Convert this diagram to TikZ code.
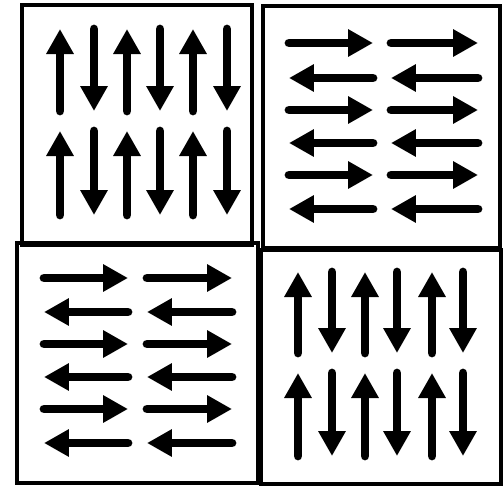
\documentclass[tikz,border=0pt]{standalone}
\usetikzlibrary{arrows.meta}

\begin{document}
\begin{tikzpicture}[
  x=0.02cm, y=-0.02cm,
  cadre/.style={draw, line width=2.1pt},
  spin/.style={line width=5pt, line cap=round,
               -{Triangle[width=0.52cm, length=0.5cm]}},
]
\useasboundingbox (0,0) rectangle (504,488);
% les quatre domaines
\draw[cadre] (22,5) rectangle (252,245);
\draw[cadre] (263,6) rectangle (500,248);
\draw[cadre] (17,243) rectangle (258,483);
\draw[cadre] (261,250) rectangle (501,484);
% domaine haut gauche : spins verticaux
\foreach \ya/\yb in {29/111, 131/215} {
  \foreach \x in {60,127,193} \draw[spin] (\x,\yb) -- (\x,\ya);
  \foreach \x in {94,160,227} \draw[spin] (\x,\ya) -- (\x,\yb);
}
% domaine haut droit : spins horizontaux
\foreach \xa/\xb in {289/373, 391/478} {
  \foreach \y in {43,110,175} \draw[spin] (\xa,\y) -- (\xb,\y);
  \foreach \y in {78,143,209} \draw[spin] (\xb,\y) -- (\xa,\y);
}
% domaine bas gauche : spins horizontaux
\foreach \xa/\xb in {44/128, 147/232} {
  \foreach \y in {278,344,409} \draw[spin] (\xa,\y) -- (\xb,\y);
  \foreach \y in {312,377,443} \draw[spin] (\xb,\y) -- (\xa,\y);
}
% domaine bas droit : spins verticaux
\foreach \ya/\yb in {272/353, 373/456} {
  \foreach \x in {298,365,432} \draw[spin] (\x,\yb) -- (\x,\ya);
  \foreach \x in {332,397,463} \draw[spin] (\x,\ya) -- (\x,\yb);
}
\end{tikzpicture}
\end{document}
